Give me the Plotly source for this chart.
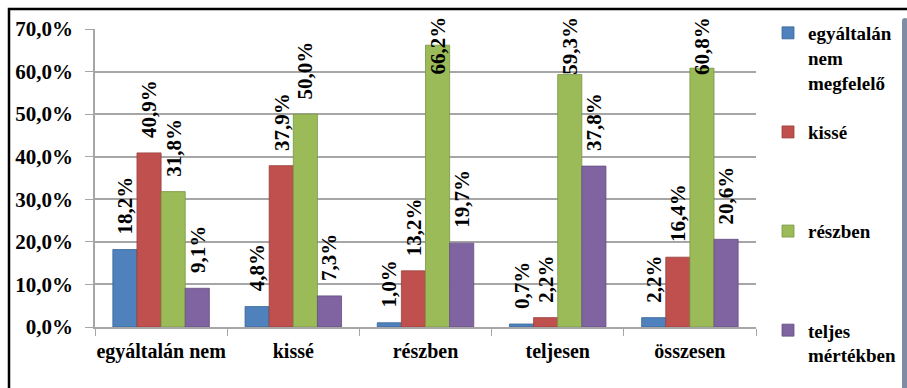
import plotly.graph_objects as go

# Categories on the x axis
categories = ["egyáltalán nem", "kissé", "részben", "teljesen", "összesen"]

# Series (percent values)
series_names = ["egyáltalán<br>nem<br>megfelelő", "kissé", "részben", "teljes<br>mértékben"]
s_nem_megfelelo = [18.2, 4.8, 1.0, 0.7, 2.2]
s_kisse = [40.9, 37.9, 13.2, 2.2, 16.4]
s_reszben = [31.8, 50.0, 66.2, 59.3, 60.8]
s_teljes = [9.1, 7.3, 19.7, 37.8, 20.6]
series_values = [s_nem_megfelelo, s_kisse, s_reszben, s_teljes]
series_colors = ["#4F81BD", "#C0504D", "#9BBB59", "#8064A2"]
edge_colors = ["#3A6496", "#98403D", "#7A9644", "#634E80"]

# Figure geometry
W, H = 907, 388
ML, MR, MT, MB = 95, 151, 29, 61
PW, PH = W - ML - MR, H - MT - MB
Y_MAX = 70
BARGAP = 0.27
FONT = "Liberation Serif"

LBL_SIZE = 21
LBL_GAP = 13        # px between bar top and its label
LBL_MIN_BOTTOM = 77  # px from top: labels never rise above the chart frame


def fmt(v):
    return f"{v:.1f}".replace(".", ",") + "%"


fig = go.Figure()
for name, vals, col, edge in zip(series_names, series_values, series_colors, edge_colors):
    # pad every legend entry to three lines so the entries are evenly spaced
    n_lines = name.count("<br>") + 1
    legend_name = name + "<br>\u00a0" * (3 - n_lines)
    fig.add_trace(go.Bar(
        x=categories, y=vals, name=legend_name, legendgroup=name,
        marker=dict(color=col, line=dict(color=edge, width=0.8)),
        hoverinfo="skip",
    ))

# Value labels above the bars, rotated
bar_w = (1 - BARGAP) / len(series_values)
annotations = []
for j, vals in enumerate(series_values):
    offset = (j - (len(series_values) - 1) / 2) * bar_w
    for i, v in enumerate(vals):
        top_px = MT + (Y_MAX - v) * PH / Y_MAX
        bottom_px = max(top_px - LBL_GAP, LBL_MIN_BOTTOM)
        annotations.append(dict(
            x=i + offset, y=v, xref="x", yref="y",
            text=fmt(v), showarrow=False, textangle=-90,
            xanchor="center", yanchor="bottom", yshift=top_px - bottom_px,
            font=dict(family=FONT, size=LBL_SIZE, color="black", weight="bold"),
        ))

# Chart frame (black line on top and left)
shapes = [dict(
    type="rect", xref="paper", yref="paper",
    x0=(9 - ML) / PW, x1=(W + 10 - ML) / PW,
    y0=-(H + 10 - MT - PH) / PH, y1=1 + (MT - 9) / PH,
    line=dict(color="black", width=2.5), fillcolor="rgba(0,0,0,0)", layer="above",
)]

fig.update_layout(
    width=W, height=H,
    margin=dict(l=ML, r=MR, t=MT, b=MB, autoexpand=False),
    paper_bgcolor="white", plot_bgcolor="white",
    barmode="group", bargap=BARGAP, bargroupgap=0,
    font=dict(family=FONT, color="black"),
    separators=", ",
    annotations=annotations, shapes=shapes,
    showlegend=True,
    legend=dict(
        x=(768) / W, y=1 - 14 / H, xref="container", yref="container",
        xanchor="left", yanchor="top", maxheight=380,
        font=dict(family=FONT, size=19, color="black", weight="bold"),
        tracegroupgap=22, valign="top", traceorder="grouped",
        bgcolor="rgba(0,0,0,0)",
    ),
)
fig.update_xaxes(
    type="category", tickson="boundaries", ticks="outside", ticklen=7,
    tickcolor="#A6A6A6", showline=True, linecolor="#A6A6A6", linewidth=1.5,
    showgrid=False, ticklabelstandoff=5, tickangle=0, automargin=False,
    tickfont=dict(family=FONT, size=20, color="black", weight="bold"),
)
fig.update_yaxes(
    range=[0, Y_MAX], dtick=10, tickformat=".1f", ticksuffix="%",
    ticks="outside", ticklen=8, tickcolor="#A6A6A6",
    showline=True, linecolor="#A6A6A6", linewidth=1.5,
    showgrid=True, gridcolor="#A6A6A6", gridwidth=1.5, zeroline=False,
    ticklabelstandoff=8, automargin=False,
    tickfont=dict(family=FONT, size=21, color="black", weight="bold"),
)

fig.write_html("out.html")
